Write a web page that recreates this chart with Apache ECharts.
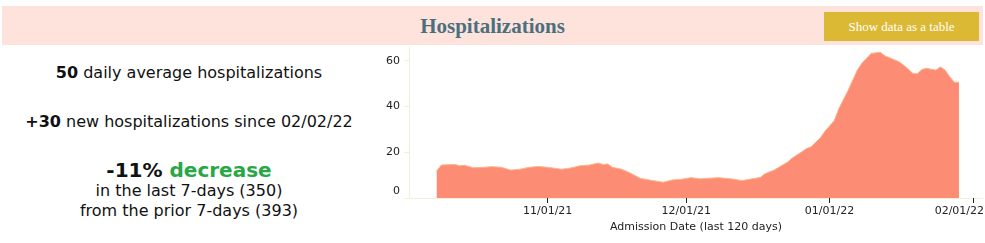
<!DOCTYPE html>
<html>
<head>
<meta charset="utf-8">
<script src="https://cdn.jsdelivr.net/npm/echarts@6/dist/echarts.min.js"></script>
<style>
  html, body { margin: 0; padding: 0; background: #fff; }
  body { width: 985px; height: 243px; position: relative; overflow: hidden; font-family: "DejaVu Sans", Verdana, sans-serif; color: #111; }
  #header { position: absolute; left: 2px; top: 6px; width: 981px; height: 39px; background: #fee3dd; }
  #title { position: absolute; left: 0; width: 985px; top: 7px; height: 39px; line-height: 39px; text-align: center; font-family: "Liberation Serif", serif; font-weight: bold; font-size: 21px; color: #4b6f7d; }
  #btn { position: absolute; left: 824px; top: 12px; width: 155px; height: 29px; line-height: 29px; background: #dcb935; color: #fff; text-align: center; font-family: "Liberation Serif", serif; font-size: 13px; }
  .ln { position: absolute; left: 0; width: 378px; text-align: center; white-space: nowrap; }
  #l1 { top: 62px; font-size: 16px; line-height: 22px; }
  #l2 { top: 111px; font-size: 16px; line-height: 22px; }
  #l3 { top: 157px; font-size: 20px; line-height: 26px; font-weight: bold; }
  #l4 { top: 181px; font-size: 16px; line-height: 20px; }
  #l5 { top: 201px; font-size: 16px; line-height: 20px; }
  .green { color: #28a745; }
  #chart { position: absolute; left: 370px; top: 45px; width: 615px; height: 198px; }
</style>
</head>
<body>
<div id="header"></div>
<div id="title">Hospitalizations</div>
<div id="btn">Show data as a table</div>
<div class="ln" id="l1"><b>50</b> daily average hospitalizations</div>
<div class="ln" id="l2"><b>+30</b> new hospitalizations since 02/02/22</div>
<div class="ln" id="l3">-11% <span class="green">decrease</span></div>
<div class="ln" id="l4">in the last 7-days (350)</div>
<div class="ln" id="l5">from the prior 7-days (393)</div>
<div id="chart"></div>
<script>
const dates = ['2021-10-08','2021-10-09','2021-10-11','2021-10-12','2021-10-13','2021-10-14','2021-10-16','2021-10-18','2021-10-20','2021-10-22','2021-10-24','2021-10-26','2021-10-28','2021-10-30','2021-11-01','2021-11-04','2021-11-06','2021-11-08','2021-11-10','2021-11-12','2021-11-13','2021-11-14','2021-11-15','2021-11-17','2021-11-19','2021-11-21','2021-11-23','2021-11-26','2021-11-28','2021-11-30','2021-12-02','2021-12-04','2021-12-08','2021-12-11','2021-12-13','2021-12-15','2021-12-17','2021-12-18','2021-12-20','2021-12-23','2021-12-24','2021-12-26','2021-12-27','2021-12-28','2021-12-30','2021-12-31','2022-01-02','2022-01-03','2022-01-04','2022-01-05','2022-01-07','2022-01-08','2022-01-10','2022-01-12','2022-01-13','2022-01-14','2022-01-16','2022-01-17','2022-01-18','2022-01-19','2022-01-20','2022-01-21','2022-01-22','2022-01-24','2022-01-25','2022-01-26','2022-01-27','2022-01-28','2022-01-29'];
const hospitalizations = [11.9,14.4,14.6,14.6,14.1,14.3,13.2,13.4,13.7,13.4,12.2,12.6,13.4,13.8,13.4,12.6,13.1,14.1,14.4,15.3,14.6,14.9,13.4,12.6,10.8,8.6,7.9,6.9,7.9,8.2,8.9,8.4,8.9,8.3,7.6,8.3,9.0,10.6,12.2,15.8,17.6,20.2,21.6,22.4,26.3,29.2,33.8,39.0,43.0,47.0,55.9,58.9,63.2,63.7,62.1,61.3,59.6,58.1,56.4,54.5,54.3,56.2,56.7,55.9,57.3,55.9,53.0,50.6,50.6];
const xTickDates = ['2021-11-01','2021-12-01','2022-01-01','2022-02-01'];
const yTicks = [0, 20, 40, 60];
const xAxisName = 'Admission Date (last 120 days)';

function ts(s) { const p = s.split('-').map(Number); return Date.UTC(p[0], p[1]-1, p[2]); }
const DAY = 86400000;
const xMin = ts('2021-10-02');
const xMax = xMin + 124.2 * DAY;
function fmt(v) {
  const d = new Date(v);
  const mm = String(d.getUTCMonth()+1).padStart(2,'0');
  const dd = String(d.getUTCDate()).padStart(2,'0');
  const yy = String(d.getUTCFullYear()).slice(2);
  return mm + '/' + dd + '/' + yy;
}
const xTicks = xTickDates.map(ts);
const lastTick = xTicks[xTicks.length - 1];

const chart = echarts.init(document.getElementById('chart'), null, { renderer: 'canvas' });
chart.setOption({
  animation: false,
  grid: { left: 39, right: 2, top: 2, bottom: 45, containLabel: false, outerBoundsMode: 'none' },
  xAxis: {
    type: 'value',
    min: xMin,
    max: xMax,
    name: xAxisName,
    nameLocation: 'middle',
    nameGap: 23,
    nameTextStyle: { fontFamily: 'DejaVu Sans', fontSize: 11, color: '#222' },
    axisLine: { show: true, lineStyle: { color: '#f3f0d6', width: 1 } },
    axisTick: { show: true, length: 5, lineStyle: { color: '#222' }, customValues: xTicks },
    axisLabel: {
      fontFamily: 'DejaVu Sans', fontSize: 11, color: '#222', margin: 8,
      customValues: xTicks, hideOverlap: false,
      formatter: function (v) { return v === lastTick ? '{r|' + fmt(v) + '}' : fmt(v); },
      rich: { r: { fontFamily: 'DejaVu Sans', fontSize: 11, color: '#222', padding: [0, 27, 0, 0] } }
    },
    splitLine: { show: false }
  },
  yAxis: {
    type: 'value',
    min: 0,
    max: 66,
    interval: 20,
    axisLine: { show: true, lineStyle: { color: '#f3f0d6', width: 1 } },
    axisTick: { show: true, length: 5, lineStyle: { color: '#f3f0d6' }, customValues: yTicks },
    axisLabel: {
      fontFamily: 'DejaVu Sans', fontSize: 11, color: '#222', margin: 9,
      customValues: yTicks,
      formatter: function (v) { return v === 0 ? '{z|0}' : String(v); },
      rich: { z: { fontFamily: 'DejaVu Sans', fontSize: 11, color: '#222', padding: [0, 0, 14, 0] } }
    },
    splitLine: { show: false }
  },
  series: [{
    type: 'line',
    data: dates.map((d, i) => [ts(d), hospitalizations[i]]),
    showSymbol: false,
    symbol: 'none',
    smooth: false,
    lineStyle: { color: '#fdb48c', width: 1 },
    areaStyle: { color: '#fc8d74', opacity: 1 },
    itemStyle: { color: '#fc8d74' }
  }]
});
</script>
</body>
</html>
